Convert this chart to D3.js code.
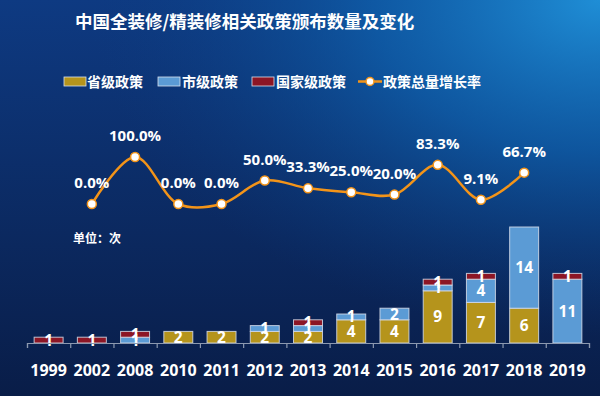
<!DOCTYPE html>
<html>
<head>
<meta charset="utf-8">
<script type="text/javascript" src="https://d3js.org/d3.v7.min.js"></script>
<style>
body { margin:0; padding:0; background:#0a1f4c; }
svg text { font-family:"Noto Sans CJK SC","Noto Sans",sans-serif; fill:#fff; }
.num { font-family:"Open Sans","Noto Sans",sans-serif; font-weight:bold; }
</style>
</head>
<body>
<div id="chart"></div>
<script type="text/javascript">
(function(){

// data
var years = ["1999","2002","2008","2010","2011","2012","2013","2014","2015","2016","2017","2018","2019"];
var provincial = [0,0,0,2,2,2,2,4,4,9,7,6,0];
var city       = [0,0,1,0,0,1,1,1,2,1,4,14,11];
var national   = [1,1,1,0,0,0,1,0,0,1,1,0,1];
var growthYears = ["2002","2008","2010","2011","2012","2013","2014","2015","2016","2017","2018"];
var growth = [0.0,100.0,0.0,0.0,50.0,33.3,25.0,20.0,83.3,9.1,66.7];

var seriesNames = ["省级政策","市级政策","国家级政策"];
var colors = ["#b5941c","#5b9bd5","#8c1625"];

var w = 600, h = 396;
var svg = d3.select("#chart").append("svg").attr("width", w).attr("height", h);

// background
var defs = svg.append("defs");
var lg = defs.append("linearGradient").attr("id","bg").attr("x1",0).attr("y1",0).attr("x2",0).attr("y2",1);
lg.append("stop").attr("offset","0%").attr("stop-color","#0e3a82");
lg.append("stop").attr("offset","100%").attr("stop-color","#091d48");
var rg = defs.append("radialGradient").attr("id","glow")
   .attr("cx",1).attr("cy",0).attr("r",0.85).attr("fx",1).attr("fy",0);
rg.append("stop").attr("offset","0%").attr("stop-color","#1f8ed6").attr("stop-opacity",1);
rg.append("stop").attr("offset","45%").attr("stop-color","#0f62ae").attr("stop-opacity",0.75);
rg.append("stop").attr("offset","100%").attr("stop-color","#0b3c80").attr("stop-opacity",0);
svg.append("rect").attr("width",w).attr("height",h).attr("fill","url(#bg)");
svg.append("rect").attr("width",w).attr("height",h).attr("fill","url(#glow)");

// title
svg.append("text").attr("x",75).attr("y",28)
   .style("font-size","17.5px").style("font-weight","bold")
   .text("中国全装修/精装修相关政策颁布数量及变化");

// legend
var lgItems = [{x:64, tx:87},{x:158, tx:182},{x:252, tx:276}];
lgItems.forEach(function(d,i){
  svg.append("rect").attr("x",d.x).attr("y",77).attr("width",22).attr("height",9)
     .attr("fill",colors[i]).attr("stroke","#d8e0ee").attr("stroke-width",0.8);
  svg.append("text").attr("x",d.tx).attr("y",87).style("font-size","14px").style("font-weight","bold")
     .text(seriesNames[i]);
});
svg.append("line").attr("x1",358).attr("x2",382).attr("y1",81.5).attr("y2",81.5)
   .attr("stroke","#f39419").attr("stroke-width",2.5);
svg.append("circle").attr("cx",370).attr("cy",81.5).attr("r",4)
   .attr("fill","#fff").attr("stroke","#f39419").attr("stroke-width",1.5);
svg.append("text").attr("x",383).attr("y",87).style("font-size","14px").style("font-weight","bold")
   .text("政策总量增长率");

// scales
var x = d3.scaleBand().domain(years).range([27,589]).paddingInner(0.33).paddingOuter(0.165);
var y = d3.scaleLinear().domain([0,20]).range([343,227]);
var yg = d3.scaleLinear().domain([0,100]).range([204,157]);

// stacked bars
var table = years.map(function(yr,i){
  return {year:yr, p:provincial[i], c:city[i], n:national[i]};
});
var stack = d3.stack().keys(["p","c","n"]);
var layers = stack(table);

var g = svg.append("g");
layers.forEach(function(layer,li){
  layer.forEach(function(seg){
    var v = seg[1]-seg[0];
    if (v <= 0) return;
    g.append("rect")
     .attr("x", x(seg.data.year))
     .attr("y", y(seg[1]))
     .attr("width", x.bandwidth())
     .attr("height", y(seg[0]) - y(seg[1]))
     .attr("fill", colors[li])
     .attr("stroke", "#d5dcea").attr("stroke-width", 1).attr("stroke-opacity", 0.85);
  });
});
layers.forEach(function(layer){
  layer.forEach(function(seg){
    var v = seg[1]-seg[0];
    if (v <= 0) return;
    g.append("text").attr("class","num")
     .attr("x", x(seg.data.year) + x.bandwidth()/2)
     .attr("y", (y(seg[0]) + y(seg[1]))/2 + 5.5)
     .attr("text-anchor","middle")
     .style("font-size","15.5px")
     .text(v);
  });
});

// axis
var xi = d3.scaleLinear().domain([0, years.length]).range([27,589]);
var axis = svg.append("g").attr("transform","translate(0,343)")
   .call(d3.axisBottom(xi).tickValues(d3.range(years.length+1)).tickSize(5).tickFormat(""));
axis.selectAll("path,line").attr("stroke","#8c99b0").attr("stroke-width",1.2);

var axis2 = svg.append("g").attr("transform","translate(0,343)")
   .call(d3.axisBottom(x).tickSize(0).tickPadding(22));
axis2.select(".domain").remove();
axis2.selectAll("text").attr("class","num").style("font-size","16px").attr("fill","#fff");

// unit
svg.append("text").attr("x",73).attr("y",243).style("font-size","12px").style("font-weight","bold")
   .text("单位：次");

// growth line
var pts = growthYears.map(function(yr,i){ return [x(yr)+x.bandwidth()/2, yg(growth[i]), growth[i]]; });
var line = d3.line().curve(d3.curveCatmullRom.alpha(0.5))
   .x(function(d){ return d[0]; }).y(function(d){ return d[1]; });
svg.append("path").attr("d", line(pts)).attr("fill","none")
   .attr("stroke","#f39419").attr("stroke-width",2.5);
svg.selectAll("circle.pt").data(pts).enter().append("circle").attr("class","pt")
   .attr("cx",function(d){ return d[0]; }).attr("cy",function(d){ return d[1]; })
   .attr("r",4.5).attr("fill","#fff").attr("stroke","#f39419").attr("stroke-width",1.5);
svg.selectAll("text.pct").data(pts).enter().append("text").attr("class","num pct")
   .attr("x",function(d){ return d[0]; }).attr("y",function(d){ return d[1]-16; })
   .attr("text-anchor","middle").style("font-size","15px")
   .text(function(d){ return d[2].toFixed(1) + "%"; });

})();
</script>
</body>
</html>
